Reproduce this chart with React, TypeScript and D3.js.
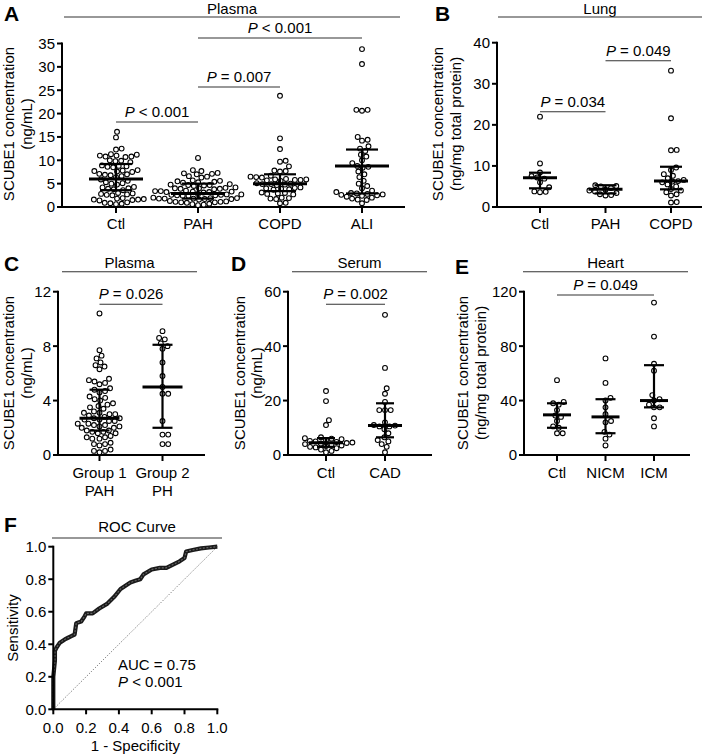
import React from 'react';
import * as d3 from 'd3';

const FONT = 'Arial, "Liberation Sans", Helvetica, sans-serif';

// ---- Panel A: plasma ----
const aCats = ['Ctl', 'PAH', 'COPD', 'ALI'];
const aCtl = [16.1, 14.9, 12.5, 12.3, 11.2, 11.0, 11.0, 10.8, 10.8, 10.7, 11.3, 10.0, 9.9, 9.8, 9.6,
  8.9, 8.8, 8.7, 8.6, 8.5, 7.9, 7.8, 7.7, 7.6, 7.5, 7.1, 7.0, 6.9, 6.8, 6.6, 6.4,
  5.9, 5.6, 5.3, 5.1, 5.0, 4.8, 4.3, 4.2, 4.0, 3.9, 3.8, 3.6, 3.0, 2.9, 2.8, 2.7, 2.6, 2.5,
  1.9, 1.8, 1.7, 1.6, 1.6, 1.5, 1.4, 1.0, 0.9, 0.8, 0.7, 0.6];
const aPah = [10.5, 7.9, 7.7, 7.3, 7.2, 7.1, 7.0, 6.6, 6.5, 6.3, 5.7, 5.6, 5.5, 5.4, 5.3, 5.2,
  4.9, 4.8, 4.7, 4.7, 4.6, 4.5, 4.2, 4.1, 4.0, 4.0, 3.9, 3.9, 3.8, 3.5, 3.4, 3.4, 3.3, 3.3, 3.2, 3.2, 3.1,
  2.8, 2.7, 2.7, 2.6, 2.6, 2.5, 2.5, 2.4, 2.4, 2.0, 1.9, 1.9, 1.8, 1.8, 1.8, 1.7, 1.7, 1.6,
  1.3, 1.2, 1.1, 1.1, 1.0, 1.0, 0.9, 0.7, 0.6, 0.5, 0.4];
const aCopd = [23.8, 14.7, 12.4, 9.9, 9.7, 8.7, 7.8, 7.7, 7.6, 6.7, 6.5, 6.4, 6.3,
  6.0, 5.9, 5.9, 5.8, 5.8, 5.7, 5.6, 5.1, 5.0, 4.9, 4.9, 4.8, 4.7, 4.2, 4.1, 4.0, 3.9, 3.8, 3.7,
  3.1, 3.0, 2.9, 2.8, 2.7, 2.0, 1.9, 1.8, 1.7, 0.9, 0.8];
const aAli = [33.8, 30.6, 20.8, 20.8, 20.6, 15.0, 14.4, 14.2, 13.0, 12.5, 12.0, 11.2, 10.8, 10.0, 9.4,
  8.8, 8.6, 8.4, 7.6, 7.0, 6.4, 5.6, 5.0, 4.5, 4.0, 3.5, 3.2, 3.0, 2.9, 2.8, 2.7, 2.6, 2.5, 2.4,
  2.2, 2.0, 1.8, 1.6, 1.5, 0.8];
const aMedian = [6.0, 2.9, 5.0, 8.8];
const aQ1 = [3.6, 1.8, 3.4, 2.9];
const aQ3 = [9.2, 5.0, 7.0, 12.3];
const aTicks = [0, 5, 10, 15, 20, 25, 30, 35];

// ---- Panel B: lung ----
const bCats = ['Ctl', 'PAH', 'COPD'];
const bCtl = [22.0, 10.6, 8.4, 7.5, 7.2, 6.9, 6.0, 4.8, 3.8, 3.7, 3.6];
const bPah = [5.3, 5.1, 5.0, 4.6, 4.2, 4.0, 3.8, 3.4, 3.1, 2.9, 2.8];
const bCopd = [33.2, 21.6, 13.9, 13.8, 9.6, 9.0, 8.0, 7.6, 7.0, 6.6, 6.3, 6.2, 6.0, 5.5, 5.0, 4.4,
  4.0, 3.6, 3.1, 2.8, 1.2, 1.1];
const bMedian = [7.1, 4.3, 6.3];
const bQ1 = [4.55, 3.3, 4.3];
const bQ3 = [8.35, 5.3, 9.8];
const bTicks = [0, 10, 20, 30, 40];

// ---- Panel C: plasma, PH groups ----
const cCats = ['Group 1|PAH', 'Group 2|PH'];
const cG1 = [10.4, 7.7, 7.3, 7.1, 6.8, 6.6, 6.5, 6.3, 5.6, 5.5, 5.4, 5.3, 5.2, 4.9, 4.8, 4.7, 4.6,
  4.3, 4.2, 4.1, 4.0, 3.8, 3.7, 3.6, 3.5, 3.4, 3.2, 3.1, 3.1, 3.0, 3.0, 2.9,
  2.8, 2.7, 2.7, 2.6, 2.6, 2.5, 2.5, 2.3, 2.3, 2.2, 2.2, 2.1, 2.1, 2.0, 2.0,
  1.8, 1.8, 1.7, 1.7, 1.6, 1.6, 1.4, 1.3, 1.3, 1.2, 1.2, 0.9, 0.8, 0.8, 0.7, 0.4, 0.3, 0.3, 0.2];
const cG2 = [9.1, 8.6, 8.5, 8.2, 8.0, 7.8, 6.8, 5.8, 5.0, 4.5, 4.5, 2.5, 1.5, 1.5, 0.8, 0.8];
const cMedian = [2.7, 5.0];
const cQ1 = [1.8, 2.0];
const cQ3 = [4.8, 8.1];
const cTicks = [0, 4, 8, 12];

// ---- Panel D: serum ----
const dCats = ['Ctl', 'CAD'];
const dCtl = [23.5, 19.8, 12.8, 11.0, 6.5, 6.2, 6.0, 5.8, 5.5, 5.2, 5.0, 4.8, 4.6, 4.4, 4.2, 4.0,
  3.8, 3.5, 3.3, 3.0, 2.8, 2.5, 2.0, 1.5, 1.0];
const dCad = [51.5, 32.0, 24.5, 22.5, 19.5, 16.5, 16.5, 16.5, 12.0, 11.0, 10.8, 10.5, 10.5, 9.5, 8.0,
  6.5, 5.5, 5.0, 4.0, 3.0, 1.0];
const dMedian = [4.5, 10.8];
const dQ1 = [3.0, 6.5];
const dQ3 = [6.2, 19.0];
const dTicks = [0, 20, 40, 60];

// ---- Panel E: heart ----
const eCats = ['Ctl', 'NICM', 'ICM'];
const eCtl = [55, 39, 38, 37, 33, 29, 28, 25, 21, 20, 16, 16];
const eNicm = [71, 53, 42, 40, 35, 30, 25, 24, 17, 15, 12, 7];
const eIcm = [112, 87, 67, 62, 44, 41, 40, 37, 35, 35, 27, 21];
const eMedian = [29.5, 28, 40];
const eQ1 = [20, 16, 35];
const eQ3 = [38, 41, 66];
const eTicks = [0, 40, 80, 120];

// ---- Panel F: ROC ----
const rocFpr = [0, 0, 0.005, 0.01, 0.01, 0.02, 0.04, 0.07, 0.09, 0.11, 0.13, 0.14, 0.17, 0.19, 0.20,
  0.24, 0.28, 0.33, 0.37, 0.41, 0.44, 0.47, 0.50, 0.53, 0.55, 0.60, 0.65, 0.69, 0.73, 0.77,
  0.80, 0.81, 0.85, 0.90, 0.95, 1.0];
const rocTpr = [0, 0.2, 0.25, 0.30, 0.36, 0.38, 0.41, 0.43, 0.44, 0.45, 0.46, 0.53, 0.54, 0.57, 0.59,
  0.59, 0.62, 0.65, 0.69, 0.74, 0.76, 0.78, 0.79, 0.80, 0.83, 0.86, 0.87, 0.87, 0.89, 0.91,
  0.93, 0.97, 0.98, 0.99, 0.995, 1.0];
const rocTicks = [0, 0.2, 0.4, 0.6, 0.8, 1.0];

// simple beeswarm: place each dot as close to the centre as it fits
function swarm(vals: number[], y: (v: number) => number, diam: number) {
  const pts = vals.map(v => ({ v, y: y(v), x: 0 })).sort((a, b) => b.y - a.y);
  const placed: { x: number; y: number }[] = [];
  for (const p of pts) {
    const cands = [0];
    for (const q of placed) {
      const dy = Math.abs(q.y - p.y);
      if (dy < diam) {
        const dx = Math.sqrt(diam * diam - dy * dy);
        cands.push(q.x + dx, q.x - dx);
      }
    }
    cands.sort((a, b) => Math.abs(a) - Math.abs(b));
    for (const c of cands) {
      if (placed.every(q => (q.x - c) ** 2 + (q.y - p.y) ** 2 >= diam * diam - 0.01)) {
        p.x = c;
        break;
      }
    }
    placed.push({ x: p.x, y: p.y });
  }
  return pts;
}

const PText = ({ x, y, rest }: { x: number; y: number; rest: string }) => (
  <text x={x} y={y} textAnchor="middle" fontSize={15}>
    <tspan fontStyle="italic">P</tspan>{' ' + rest}
  </text>
);

type PLine = { from: number; to: number; y: number; label: string };

type PanelProps = {
  letter: string; letterX: number; letterY: number;
  title: string; titleX0: number; titleX1: number; titleY: number;
  axisX0: number; axisX1: number; yTop: number; yBottom: number; yMax: number; ticks: number[];
  cats: string[]; catRange: [number, number]; labelY: number;
  groups: number[][]; medians: number[]; q1: number[]; q3: number[];
  medHalf: number; iqrHalf: number;
  pLines: PLine[];
  yLabel: string[]; yLabelX: number[]; yLabelY: number;
};

function DotPanel(p: PanelProps) {
  const y = d3.scaleLinear().domain([0, p.yMax]).range([p.yBottom, p.yTop]);
  const x = d3.scalePoint<string>().domain(p.cats).range(p.catRange);
  return (
    <g>
      <text x={p.letterX} y={p.letterY} fontSize={21} fontWeight="bold">{p.letter}</text>
      <text x={(p.titleX0 + p.titleX1) / 2} y={Math.max(p.titleY - 4, 14)} textAnchor="middle" fontSize={15}>{p.title}</text>
      <line x1={p.titleX0} x2={p.titleX1} y1={p.titleY} y2={p.titleY} stroke="#333" strokeWidth={1.1} />
      {p.yLabel.map((s, i) => (
        <text key={i} transform={`translate(${p.yLabelX[i]},${p.yLabelY}) rotate(-90)`} textAnchor="middle"
          dy="0.35em" fontSize={15}>{s}</text>
      ))}
      {/* y axis */}
      <line x1={p.axisX0} x2={p.axisX0} y1={p.yBottom + 1} y2={p.yTop - 1} stroke="#000" strokeWidth={2} />
      {p.ticks.map(t => (
        <g key={t}>
          <line x1={p.axisX0 - 5} x2={p.axisX0} y1={y(t)} y2={y(t)} stroke="#000" strokeWidth={2} />
          <text x={p.axisX0 - 7} y={y(t)} dy="0.36em" textAnchor="end" fontSize={15}>{t}</text>
        </g>
      ))}
      {/* x axis */}
      <line x1={p.axisX0 - 1} x2={p.axisX1} y1={p.yBottom} y2={p.yBottom} stroke="#000" strokeWidth={2} />
      {p.cats.map(c => (
        <g key={c}>
          <line x1={x(c)} x2={x(c)} y1={p.yBottom} y2={p.yBottom + 6} stroke="#000" strokeWidth={2} />
          {c.split('|').map((s, i) => (
            <text key={i} x={x(c)} y={p.labelY + i * 18} textAnchor="middle" fontSize={15}>{s}</text>
          ))}
        </g>
      ))}
      {/* dots */}
      {p.groups.map((g, gi) => {
        const cx = x(p.cats[gi]) as number;
        return swarm(g, y, 5.7).map((d, i) => (
          <circle key={gi + '-' + i} cx={cx + d.x} cy={d.y} r={2.4} fill="#fff" stroke="#000" strokeWidth={1.1} />
        ));
      })}
      {/* median + IQR */}
      {p.cats.map((c, gi) => {
        const cx = x(c) as number;
        return (
          <g key={'s' + c}>
            <line x1={cx} x2={cx} y1={y(p.q1[gi])} y2={y(p.q3[gi])} stroke="#000" strokeWidth={2.2} />
            <line x1={cx - p.iqrHalf} x2={cx + p.iqrHalf} y1={y(p.q1[gi])} y2={y(p.q1[gi])} stroke="#000" strokeWidth={2.2} />
            <line x1={cx - p.iqrHalf} x2={cx + p.iqrHalf} y1={y(p.q3[gi])} y2={y(p.q3[gi])} stroke="#000" strokeWidth={2.2} />
            <line x1={cx - p.medHalf} x2={cx + p.medHalf} y1={y(p.medians[gi])} y2={y(p.medians[gi])} stroke="#000" strokeWidth={3} />
          </g>
        );
      })}
      {p.pLines.map((l, i) => {
        const x1 = x(p.cats[l.from]) as number;
        const x2 = x(p.cats[l.to]) as number;
        return (
          <g key={'p' + i}>
            <line x1={x1} x2={x2} y1={l.y} y2={l.y} stroke="#333" strokeWidth={1.1} />
            <PText x={(x1 + x2) / 2} y={l.y - 5} rest={l.label} />
          </g>
        );
      })}
    </g>
  );
}

function RocPanel() {
  const x = d3.scaleLinear().domain([0, 1]).range([53.3, 217.3]);
  const y = d3.scaleLinear().domain([0, 1]).range([709.3, 546.7]);
  const pts = rocFpr.map((f, i) => [f, rocTpr[i]] as [number, number]);
  const line = d3.line<[number, number]>().x(d => x(d[0])).y(d => y(d[1]));
  return (
    <g>
      <text x={4} y={532} fontSize={21} fontWeight="bold">F</text>
      <text x={137} y={532} textAnchor="middle" fontSize={15}>ROC Curve</text>
      <line x1={52} x2={222} y1={538} y2={538} stroke="#333" strokeWidth={1.1} />
      <text transform={`translate(12.5,628) rotate(-90)`} textAnchor="middle" dy="0.35em" fontSize={15}>Sensitivity</text>
      <line x1={x(0)} y1={y(0)} x2={x(1)} y2={y(1)} stroke="#555" strokeWidth={0.8} strokeDasharray="1.2 1.6" />
      <path d={line(pts) || ''} fill="none" stroke="#1a1a1a" strokeWidth={4.2} strokeLinejoin="round" />
      <path d={line(pts) || ''} fill="none" stroke="#666" strokeWidth={1.1} strokeLinejoin="round" strokeDasharray="2 1.5" />
      <line x1={x(0)} x2={x(0)} y1={y(0) + 1} y2={y(1) - 1} stroke="#000" strokeWidth={2} />
      <line x1={x(0) - 1} x2={x(1) + 1} y1={y(0)} y2={y(0)} stroke="#000" strokeWidth={2} />
      {rocTicks.map(t => (
        <g key={t}>
          <line x1={x(0) - 5} x2={x(0)} y1={y(t)} y2={y(t)} stroke="#000" strokeWidth={2} />
          <text x={x(0) - 7} y={y(t)} dy="0.36em" textAnchor="end" fontSize={15}>{t.toFixed(1)}</text>
          <line x1={x(t)} x2={x(t)} y1={y(0)} y2={y(0) + 5} stroke="#000" strokeWidth={2} />
          <text x={x(t)} y={733} textAnchor="middle" fontSize={15}>{t.toFixed(1)}</text>
        </g>
      ))}
      <text x={x(0.5)} y={751} textAnchor="middle" fontSize={15}>1 - Specificity</text>
      <text x={118} y={670} fontSize={15}>AUC = 0.75</text>
      <text x={118} y={687} fontSize={15}><tspan fontStyle="italic">P</tspan>{' < 0.001'}</text>
    </g>
  );
}

export default function App() {
  const concLabel = 'SCUBE1 concentration';
  return (
    <svg width={705} height={755} style={{ position: 'absolute', left: 0, top: 0, background: '#fff' }}
      fontFamily={FONT}>
      <rect width={705} height={755} fill="#fff" />
      <DotPanel letter="A" letterX={4} letterY={21} title="Plasma" titleX0={64} titleX1={400} titleY={17}
        axisX0={62} axisX1={405} yTop={43.5} yBottom={207} yMax={35} ticks={aTicks}
        cats={aCats} catRange={[116, 362]} labelY={229}
        groups={[aCtl, aPah, aCopd, aAli]} medians={aMedian} q1={aQ1} q3={aQ3} medHalf={27} iqrHalf={16}
        pLines={[{ from: 0, to: 1, y: 122, label: '< 0.001' }, { from: 1, to: 2, y: 87, label: '= 0.007' },
          { from: 1, to: 3, y: 38, label: '< 0.001' }]}
        yLabel={[concLabel, '(ng/mL)']} yLabelX={[9, 26.5]} yLabelY={124} />
      <DotPanel letter="B" letterX={435} letterY={21} title="Lung" titleX0={498} titleX1={702} titleY={17}
        axisX0={497} axisX1={702} yTop={42.7} yBottom={207} yMax={40} ticks={bTicks}
        cats={bCats} catRange={[540, 671]} labelY={229}
        groups={[bCtl, bPah, bCopd]} medians={bMedian} q1={bQ1} q3={bQ3} medHalf={17} iqrHalf={11}
        pLines={[{ from: 0, to: 1, y: 111.7, label: '= 0.034' }, { from: 1, to: 2, y: 60.7, label: '= 0.049' }]}
        yLabel={[concLabel, '(ng/mg total protein)']} yLabelX={[438, 456]} yLabelY={124} />
      <DotPanel letter="C" letterX={4} letterY={271} title="Plasma" titleX0={62} titleX1={197} titleY={271.7}
        axisX0={58} axisX1={205} yTop={291.7} yBottom={455} yMax={12} ticks={cTicks}
        cats={cCats} catRange={[99.5, 162.5]} labelY={478}
        groups={[cG1, cG2]} medians={cMedian} q1={cQ1} q3={cQ3} medHalf={20} iqrHalf={10}
        pLines={[{ from: 0, to: 1, y: 304.3, label: '= 0.026' }]}
        yLabel={[concLabel, '(ng/mL)']} yLabelX={[9, 27]} yLabelY={373} />
      <DotPanel letter="D" letterX={231} letterY={271} title="Serum" titleX0={292} titleX1={427} titleY={271.7}
        axisX0={288} axisX1={432} yTop={291.7} yBottom={455} yMax={60} ticks={dTicks}
        cats={dCats} catRange={[326, 385]} labelY={478}
        groups={[dCtl, dCad]} medians={dMedian} q1={dQ1} q3={dQ3} medHalf={17} iqrHalf={9}
        pLines={[{ from: 0, to: 1, y: 304.3, label: '= 0.002' }]}
        yLabel={[concLabel, '(ng/mL)']} yLabelX={[239.5, 257]} yLabelY={373} />
      <DotPanel letter="E" letterX={455} letterY={274} title="Heart" titleX0={523} titleX1={688} titleY={271.7}
        axisX0={524} axisX1={690} yTop={291.7} yBottom={455} yMax={120} ticks={eTicks}
        cats={eCats} catRange={[557, 654]} labelY={478}
        groups={[eCtl, eNicm, eIcm]} medians={eMedian} q1={eQ1} q3={eQ3} medHalf={14} iqrHalf={10}
        pLines={[{ from: 0, to: 2, y: 295, label: '= 0.049' }]}
        yLabel={[concLabel, '(ng/mg total protein)']} yLabelX={[462.5, 481]} yLabelY={373} />
      <RocPanel />
    </svg>
  );
}
